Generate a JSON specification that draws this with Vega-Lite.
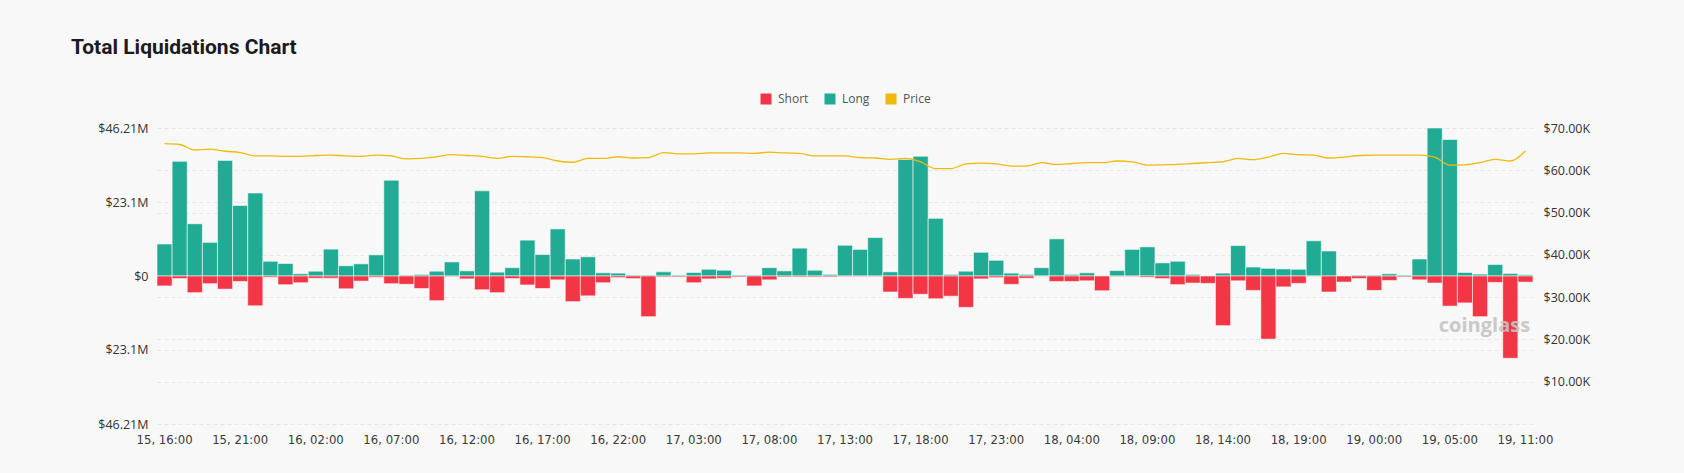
{
  "$schema": "https://vega.github.io/schema/vega-lite/v6.json",
  "width": 1376,
  "height": 296,
  "autosize": {"type": "none"},
  "padding": {"left": 157, "top": 128, "right": 151, "bottom": 49},
  "background": "#f8f8f8",
  "title": {
    "text": "Total Liquidations Chart",
    "anchor": "start",
    "frame": "group",
    "dx": -86,
    "offset": 35,
    "font": "Roboto",
    "fontSize": 21,
    "fontWeight": "bold",
    "color": "#1b1b1b"
  },
  "config": {
    "view": {"stroke": null},
    "axis": {
      "domain": false,
      "ticks": false,
      "labelFont": "Open Sans",
      "labelFontSize": 12.5,
      "labelColor": "#333333",
      "gridColor": "#e6e6e6",
      "gridDash": [4, 3]
    },
    "legend": {"layout": {"top": {"anchor": "middle"}}}
  },
  "data": {
    "values": [
      {"t": "15, 16:00", "long": 10.0, "short": -3.1, "price": 66300},
      {"t": "15, 17:00", "long": 35.8, "short": -0.8, "price": 66100},
      {"t": "15, 18:00", "long": 16.3, "short": -5.2, "price": 64800},
      {"t": "15, 19:00", "long": 10.5, "short": -2.4, "price": 65000},
      {"t": "15, 20:00", "long": 36.1, "short": -4.1, "price": 64500},
      {"t": "15, 21:00", "long": 22.0, "short": -1.7, "price": 64200},
      {"t": "15, 22:00", "long": 25.9, "short": -9.3, "price": 63400},
      {"t": "15, 23:00", "long": 4.6, "short": -0.4, "price": 63400},
      {"t": "16, 00:00", "long": 3.9, "short": -2.7, "price": 63300},
      {"t": "16, 01:00", "long": 0.7, "short": -2.1, "price": 63300},
      {"t": "16, 02:00", "long": 1.5, "short": -0.7, "price": 63500},
      {"t": "16, 03:00", "long": 8.4, "short": -0.7, "price": 63600},
      {"t": "16, 04:00", "long": 3.2, "short": -4.0, "price": 63400},
      {"t": "16, 05:00", "long": 3.8, "short": -1.6, "price": 63300},
      {"t": "16, 06:00", "long": 6.6, "short": -0.4, "price": 63600},
      {"t": "16, 07:00", "long": 29.9, "short": -2.4, "price": 63400},
      {"t": "16, 08:00", "long": 0.3, "short": -2.6, "price": 62700},
      {"t": "16, 09:00", "long": 0.5, "short": -3.9, "price": 62800},
      {"t": "16, 10:00", "long": 1.5, "short": -7.7, "price": 63200},
      {"t": "16, 11:00", "long": 4.4, "short": -0.2, "price": 63700},
      {"t": "16, 12:00", "long": 1.6, "short": -0.9, "price": 63500},
      {"t": "16, 13:00", "long": 26.6, "short": -4.3, "price": 63300},
      {"t": "16, 14:00", "long": 1.2, "short": -5.2, "price": 62800},
      {"t": "16, 15:00", "long": 2.6, "short": -0.8, "price": 63300},
      {"t": "16, 16:00", "long": 11.2, "short": -2.8, "price": 63200},
      {"t": "16, 17:00", "long": 6.7, "short": -3.9, "price": 63000},
      {"t": "16, 18:00", "long": 14.7, "short": -1.2, "price": 62200},
      {"t": "16, 19:00", "long": 5.3, "short": -8.0, "price": 61900},
      {"t": "16, 20:00", "long": 6.0, "short": -6.2, "price": 62800},
      {"t": "16, 21:00", "long": 1.0, "short": -2.1, "price": 62800},
      {"t": "16, 22:00", "long": 0.9, "short": -0.5, "price": 63200},
      {"t": "16, 23:00", "long": 0.3, "short": -0.8, "price": 62900},
      {"t": "17, 00:00", "long": 0.3, "short": -12.7, "price": 63000},
      {"t": "17, 01:00", "long": 1.3, "short": -0.3, "price": 64200},
      {"t": "17, 02:00", "long": 0.3, "short": -0.3, "price": 63900},
      {"t": "17, 03:00", "long": 1.1, "short": -2.1, "price": 63900},
      {"t": "17, 04:00", "long": 2.1, "short": -0.9, "price": 64100},
      {"t": "17, 05:00", "long": 1.8, "short": -0.7, "price": 64100},
      {"t": "17, 06:00", "long": 0.3, "short": -0.3, "price": 64100},
      {"t": "17, 07:00", "long": 0.3, "short": -3.1, "price": 64000},
      {"t": "17, 08:00", "long": 2.6, "short": -1.2, "price": 64300},
      {"t": "17, 09:00", "long": 1.6, "short": -0.3, "price": 64100},
      {"t": "17, 10:00", "long": 8.7, "short": -0.3, "price": 64000},
      {"t": "17, 11:00", "long": 1.8, "short": -0.3, "price": 63400},
      {"t": "17, 12:00", "long": 0.5, "short": -0.3, "price": 63400},
      {"t": "17, 13:00", "long": 9.6, "short": -0.2, "price": 63400},
      {"t": "17, 14:00", "long": 8.3, "short": -0.2, "price": 63000},
      {"t": "17, 15:00", "long": 12.0, "short": -0.2, "price": 62900},
      {"t": "17, 16:00", "long": 1.3, "short": -5.0, "price": 62600},
      {"t": "17, 17:00", "long": 36.4, "short": -7.0, "price": 62800},
      {"t": "17, 18:00", "long": 37.4, "short": -5.7, "price": 62000},
      {"t": "17, 19:00", "long": 18.0, "short": -7.1, "price": 60400},
      {"t": "17, 20:00", "long": 0.5, "short": -6.3, "price": 60400},
      {"t": "17, 21:00", "long": 1.5, "short": -9.8, "price": 61500},
      {"t": "17, 22:00", "long": 7.4, "short": -0.9, "price": 61700},
      {"t": "17, 23:00", "long": 4.9, "short": -0.5, "price": 61500},
      {"t": "18, 00:00", "long": 0.9, "short": -2.6, "price": 61000},
      {"t": "18, 01:00", "long": 0.5, "short": -0.7, "price": 61000},
      {"t": "18, 02:00", "long": 2.6, "short": -0.1, "price": 61800},
      {"t": "18, 03:00", "long": 11.6, "short": -1.7, "price": 61400},
      {"t": "18, 04:00", "long": 0.5, "short": -1.7, "price": 61600},
      {"t": "18, 05:00", "long": 1.0, "short": -1.5, "price": 61800},
      {"t": "18, 06:00", "long": 0.1, "short": -4.6, "price": 61800},
      {"t": "18, 07:00", "long": 1.7, "short": -0.2, "price": 62200},
      {"t": "18, 08:00", "long": 8.3, "short": -0.2, "price": 62000},
      {"t": "18, 09:00", "long": 9.1, "short": -0.4, "price": 61200},
      {"t": "18, 10:00", "long": 4.1, "short": -0.8, "price": 61300},
      {"t": "18, 11:00", "long": 4.6, "short": -2.7, "price": 61400},
      {"t": "18, 12:00", "long": 0.5, "short": -2.2, "price": 61600},
      {"t": "18, 13:00", "long": 0.1, "short": -2.3, "price": 61800},
      {"t": "18, 14:00", "long": 0.9, "short": -15.5, "price": 62000},
      {"t": "18, 15:00", "long": 9.5, "short": -1.5, "price": 62800},
      {"t": "18, 16:00", "long": 2.8, "short": -4.5, "price": 62500},
      {"t": "18, 17:00", "long": 2.4, "short": -19.7, "price": 63100},
      {"t": "18, 18:00", "long": 2.2, "short": -3.4, "price": 64000},
      {"t": "18, 19:00", "long": 2.1, "short": -2.3, "price": 63700},
      {"t": "18, 20:00", "long": 11.0, "short": -0.1, "price": 63600},
      {"t": "18, 21:00", "long": 7.8, "short": -5.0, "price": 62900},
      {"t": "18, 22:00", "long": 0.1, "short": -1.9, "price": 63100},
      {"t": "18, 23:00", "long": 0.3, "short": -0.8, "price": 63500},
      {"t": "19, 00:00", "long": 0.3, "short": -4.5, "price": 63600},
      {"t": "19, 01:00", "long": 0.7, "short": -1.4, "price": 63600},
      {"t": "19, 02:00", "long": 0.3, "short": -0.3, "price": 63600},
      {"t": "19, 03:00", "long": 5.3, "short": -1.2, "price": 63600},
      {"t": "19, 04:00", "long": 46.21, "short": -2.2, "price": 63100},
      {"t": "19, 05:00", "long": 42.6, "short": -9.4, "price": 61200},
      {"t": "19, 06:00", "long": 1.1, "short": -8.4, "price": 61300},
      {"t": "19, 07:00", "long": 0.6, "short": -12.7, "price": 61800},
      {"t": "19, 08:00", "long": 3.6, "short": -2.0, "price": 62600},
      {"t": "19, 09:00", "long": 0.8, "short": -25.7, "price": 62200},
      {"t": "19, 11:00", "long": 0.4, "short": -1.9, "price": 64600}
    ]
  },
  "encoding": {
    "x": {
      "field": "t",
      "type": "ordinal",
      "sort": null,
      "scale": {"paddingInner": 0, "paddingOuter": 0},
      "axis": {
        "title": null,
        "labelAngle": 0,
        "grid": false,
        "labelPadding": 9,
        "labelFont": "'Liberation Sans Narrow', 'DejaVu Sans Condensed', Roboto",
        "labelFontSize": 13,
        "labelColor": "#3a3a3a",
        "values": ["15, 16:00", "15, 21:00", "16, 02:00", "16, 07:00", "16, 12:00", "16, 17:00", "16, 22:00", "17, 03:00", "17, 08:00", "17, 13:00", "17, 18:00", "17, 23:00", "18, 04:00", "18, 09:00", "18, 14:00", "18, 19:00", "19, 00:00", "19, 05:00", "19, 11:00"]
      }
    }
  },
  "layer": [
    {
      "layer": [
        {
          "mark": {"type": "bar", "stroke": "#ffffff", "strokeOpacity": 0.55, "strokeWidth": 1},
          "encoding": {
            "y": {
              "field": "long",
              "type": "quantitative",
              "scale": {"domain": [-46.21, 46.21], "nice": false},
              "axis": {
                "title": null,
                "grid": true,
                "labelPadding": 9,
                "values": [-46.21, -23.1, 0, 23.1, 46.21],
                "labelExpr": "datum.value == 0 ? '$0' : '$' + abs(datum.value) + 'M'"
              }
            },
            "color": {
              "datum": "Long",
              "scale": {"domain": ["Short", "Long", "Price"], "range": ["#f23645", "#22ab94", "#f0b90b"]},
              "legend": {
                "orient": "top",
                "title": null,
                "direction": "horizontal",
                "symbolType": "square",
                "symbolSize": 121,
                "symbolStrokeWidth": 0,
                "symbolOpacity": 1,
                "labelFont": "Open Sans",
                "labelFontSize": 12,
                "labelColor": "#555555",
                "labelOffset": 6,
                "columnPadding": 15,
                "offset": 23
              }
            }
          }
        },
        {
          "mark": {"type": "bar", "stroke": "#ffffff", "strokeOpacity": 0.55, "strokeWidth": 1},
          "encoding": {
            "y": {
              "field": "short",
              "type": "quantitative",
              "scale": {"domain": [-46.21, 46.21], "nice": false},
              "axis": {
                "title": null,
                "grid": true,
                "labelPadding": 9,
                "values": [-46.21, -23.1, 0, 23.1, 46.21],
                "labelExpr": "datum.value == 0 ? '$0' : '$' + abs(datum.value) + 'M'"
              }
            },
            "color": {"datum": "Short"}
          }
        },
        {
          "transform": [{"filter": "datum.t == '19, 05:00'"}],
          "mark": {"type": "text", "align": "left", "baseline": "middle", "dx": -11, "font": "Open Sans", "fontSize": 20, "fontWeight": "bold", "color": "#c4c4c4", "opacity": 0.9},
          "encoding": {
            "y": {"datum": -15.5},
            "text": {"value": "coinglass"}
          }
        }
      ]
    },
    {
      "mark": {"type": "line", "interpolate": "monotone", "strokeWidth": 1.3},
      "encoding": {
        "y": {
          "field": "price",
          "type": "quantitative",
          "scale": {"domain": [0, 70000], "nice": false},
          "axis": {
            "orient": "right",
            "title": null,
            "grid": true,
            "labelPadding": 10,
            "values": [0, 10000, 20000, 30000, 40000, 50000, 60000, 70000],
            "labelExpr": "datum.value == 0 ? '' : '$' + format(datum.value / 1000, '.2f') + 'K'"
          }
        },
        "color": {"datum": "Price"}
      }
    }
  ],
  "resolve": {"scale": {"y": "independent"}}
}
